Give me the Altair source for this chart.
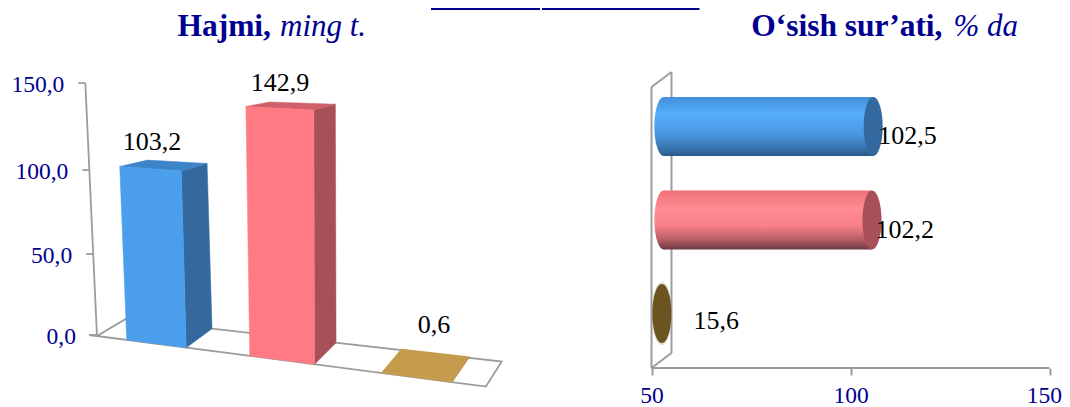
import altair as alt
import pandas as pd

# ---- values ----
volume_cats = ["A", "B", "C"]
volume_vals = [103.2, 142.9, 0.6]
volume_text = ["103,2", "142,9", "0,6"]
growth_vals = [102.5, 102.2, 15.6]
growth_text = ["102,5", "102,2", "15,6"]
left_ticks = [0, 50, 100, 150]
left_tick_text = ["0,0", "50,0", "100,0", "150,0"]
right_ticks = [50, 100, 150]

SERIF = "Liberation Serif"
NAVY = "#000090"
GREY = "#9c9c9c"
LEFT_W, H = 532, 360
LEFT_ORIGIN, RIGHT_ORIGIN = 8, 542.5
BASE, PPU = 335, 1.68

front = ["#4A9EEC", "#FF7A82", "#C49B4A"]
side = ["#33699F", "#A85058", "#A8843C"]
top = ["#3D84C8", "#D0606A", "#C49B4A"]

# slanted 3-D projection: (slot along the floor, depth 0..1, value) -> chart units
def project(u, d, v):
    x = u + (d * (29 - 4.4 * u) + v * (-0.08 + 0.044 * u)) / 132.3
    y = v * (1 + 0.07 * u / 1.66) * 1.66 / 1.68 - d * v * 0.11 / 1.68
    y += (-0.13 * 132.3 * u + d * (17 + 2.7 * u)) / 1.68
    return x, y

x_scale = alt.Scale(domain=[(LEFT_ORIGIN - 89) / 132.3, (LEFT_ORIGIN + LEFT_W - 89) / 132.3], nice=False, zero=False)
y_scale = alt.Scale(domain=[(BASE - 8 - H) / PPU, (BASE - 8) / PPU], nice=False, zero=False)
X = alt.X("x:Q", scale=x_scale, axis=None)
Y = alt.Y("y:Q", scale=y_scale, axis=None)

def poly(corners, fill, stroke=None, sw=0.5):
    pts = [project(*c) for c in corners + corners[:1]]
    df = pd.DataFrame({"x": [p[0] for p in pts], "y": [p[1] for p in pts], "i": range(len(pts))})
    return alt.Chart(df).mark_line(fill=fill, stroke=stroke or fill, strokeWidth=sw, interpolate="linear",
                                   fillOpacity=1).encode(x=X, y=Y, order="i:Q")

layers = []
# floor + axis wall
layers.append(poly([(0, 0, 0), (3, 0, 0), (3, 1, 0), (0.06, 1, 0), (0.06, 0, 0)], "#ffffff", GREY, 1.8))
ax_pts = [project(0.06, 0, t) for t in (0, 150)]
layers.append(alt.Chart(pd.DataFrame({"x": [p[0] for p in ax_pts], "y": [0, 150], "i": [0, 1]}))
              .mark_line(color=GREY, strokeWidth=1.8).encode(x=X, y=alt.Y("y:Q", scale=y_scale, axis=None), order="i:Q"))
tick_df = pd.DataFrame({"v": left_ticks, "t": left_tick_text})
tick_df["y"] = [v - 0.00036 * v * (150 - v) for v in left_ticks]   # perspective of the wall
tick_df["x2"] = [project(0.06, 0, v)[0] for v in tick_df["y"]]
tick_df["x"] = tick_df["x2"] - 7 / 132.3
tick_df["lx"] = tick_df["x2"] - 21 / 132.3
layers.append(alt.Chart(tick_df).mark_rule(color=GREY, strokeWidth=1.8).encode(x=X, x2="x2:Q", y=Y))
layers.append(alt.Chart(tick_df).mark_text(align="right", baseline="middle", font=SERIF, fontSize=23.5, color=NAVY, dy=1.5).encode(
    x=alt.X("lx:Q", scale=x_scale, axis=None), y=Y, text="t:N"))

# 3-D bars
slots = [0.51, 1.46, 2.48]
half = [0.225, 0.245, 0.265]
for i, v in enumerate(volume_vals):
    a, b = slots[i] - half[i], slots[i] + half[i]
    layers.append(poly([(b, 0, 0), (b, 1, 0), (b, 1, v), (b, 0, v)], side[i]))
    layers.append(poly([(a, 0, v), (a, 1, v), (b, 1, v), (b, 0, v)], top[i]))
    layers.append(poly([(a, 0, 0), (b, 0, 0), (b, 0, v), (a, 0, v)], front[i]))

lab_df = pd.DataFrame({"c": volume_cats, "v": volume_vals, "t": volume_text,
                       "lx": [(152 - 89) / 132.3, (280 - 89) / 132.3, (434 - 89) / 132.3],
                       "ly": [(335 - 142) / 1.68, (335 - 83) / 1.68, (335 - 325) / 1.68]})
layers.append(alt.Chart(lab_df).mark_text(font=SERIF, fontSize=26, color="#000000", baseline="middle").encode(
    x=alt.X("lx:Q", scale=x_scale, axis=None), y=alt.Y("ly:Q", scale=y_scale, axis=None), text="t:N"))

def title_text(txt, px, base_y, bold, align):
    return alt.Chart(pd.DataFrame({"t": [txt]})).mark_text(
        font=SERIF, fontSize=31.5 if bold else 31, color=NAVY, align=align, baseline="alphabetic",
        fontWeight="bold" if bold else "normal", fontStyle="normal" if bold else "italic"
    ).encode(x=alt.value(px), y=alt.value(base_y), text="t:N")

def top_bar(x0, x1):
    return alt.Chart(pd.DataFrame({"a": [0]})).mark_rule(color=NAVY, strokeWidth=2).encode(
        x=alt.value(x0), x2=alt.value(x1), y=alt.value(1))

layers += [title_text("Hajmi,", 271 - LEFT_ORIGIN, 28, True, "right"),
           title_text("ming t.", 280 - LEFT_ORIGIN, 28, False, "left"),
           top_bar(431 - LEFT_ORIGIN, LEFT_W)]
left = alt.layer(*layers).properties(width=LEFT_W, height=H)

# ---- right panel ----
rows = ["A", "B", "C"]
PX_PER = 3.98
RIGHT_W = round(652 - RIGHT_ORIGIN + 100 * PX_PER, 1)
RX = alt.Scale(domain=[50 - (652 - RIGHT_ORIGIN) / PX_PER, 150], nice=False, zero=False)
RY = alt.Scale(type="point", domain=rows, range=[118.5, 305.5], padding=0)
CAP = "M0,-1 A0.322,1 0 1 1 0,1 A0.322,1 0 1 1 0,-1 Z"
df = pd.DataFrame({"r": rows, "v": growth_vals, "t": growth_text})
df["cap"] = [max(v, 50) + c for v, c in zip(growth_vals, [3.2, 3.2, 2.6])]
df["start"] = 53.1
df["lab"] = df["cap"] + [1.3, 0.9, 7.95]
df["laby"] = [9, 9.5, 7.5]

def vgrad(cols):
    stops = [alt.GradientStop(offset=o, color=c) for o, c in cols]
    return alt.Gradient(gradient="linear", x1=0, x2=0, y1=0, y2=1, stops=stops)

blue_g = vgrad([(0, "#4390DA"), (0.28, "#55AEFA"), (0.6, "#4A9AE6"), (0.85, "#3A77B3"), (1, "#2A5A88")])
red_g = vgrad([(0, "#F0707A"), (0.3, "#FF8C92"), (0.6, "#F8808A"), (0.85, "#B05A62"), (1, "#6B3A40")])

x_axis = alt.Axis(values=right_ticks, domain=False, grid=False, title=None, ticks=True,
                  tickColor=GREY, tickWidth=2, tickSize=7, labelFont=SERIF, labelFontSize=23.5,
                  labelColor=NAVY, labelPadding=8, labelFlush=True, labelFlushOffset=12, labelOverlap=False, format="d")
WX = lambda f: alt.X(f, scale=RX, axis=x_axis, title=None)
WY = alt.Y("r:N", scale=RY, axis=None)

def wall_line(x0, y0, x1, y1):
    return alt.Chart(pd.DataFrame({"a": [0]})).mark_rule(color=GREY, strokeWidth=2).encode(
        x=alt.value(x0 - RIGHT_ORIGIN), x2=alt.value(x1 - RIGHT_ORIGIN), y=alt.value(y0 - 8), y2=alt.value(y1 - 8))

r_layers = [
    wall_line(652, 87, 672, 72), wall_line(672, 72, 672, 353), wall_line(672, 353, 652, 368),
    wall_line(652, 87, 652, 368),
]
axis_df = pd.DataFrame({"a": [50], "b": [150]})
r_layers.append(alt.Chart(axis_df).mark_rule(color=GREY, strokeWidth=2).encode(
    x=WX("a:Q"), x2="b:Q", y=alt.value(H)))

for i, g in enumerate([blue_g, red_g]):
    sub = df.iloc[[i]]
    r_layers.append(alt.Chart(sub).mark_point(shape=CAP, size=3481, filled=True, fill=g, opacity=1, strokeWidth=0).encode(
        x=WX("start:Q"), y=WY))
    r_layers.append(alt.Chart(sub).mark_bar(size=59, fill=g).encode(x=WX("start:Q"), x2="cap:Q", y=WY))
cap_colors = ["#33699F", "#A85058", "#6B5420"]
r_layers.append(alt.Chart(df.iloc[[2]]).mark_point(shape=CAP, size=4000, filled=True, fill="#B8B4A8", opacity=0.45, strokeWidth=0).encode(
    x=WX("cap:Q"), y=WY))
for i, c in enumerate(cap_colors):
    r_layers.append(alt.Chart(df.iloc[[i]]).mark_point(shape=CAP, size=3481, filled=True, fill=c, opacity=1, strokeWidth=0).encode(
        x=WX("cap:Q"), y=WY))
r_layers.append(alt.Chart(df).mark_text(font=SERIF, fontSize=26, color="#000000", align="left", baseline="middle").encode(
    x=WX("lab:Q"), y=WY, yOffset=alt.YOffset("laby:Q", scale=None), text="t:N"))
r_layers += [title_text("O‘sish sur’ati,", 943 - RIGHT_ORIGIN, 28, True, "right"),
             title_text("% da", 954 - RIGHT_ORIGIN, 28, False, "left"),
             top_bar(0, 700 - RIGHT_ORIGIN)]
right = alt.layer(*r_layers).properties(width=RIGHT_W, height=H)

chart = alt.hconcat(left, right, spacing=0, padding=0).configure_view(strokeWidth=0, stroke="transparent")
chart.save("out.html", embed_options={"renderer": "svg", "actions": False})
